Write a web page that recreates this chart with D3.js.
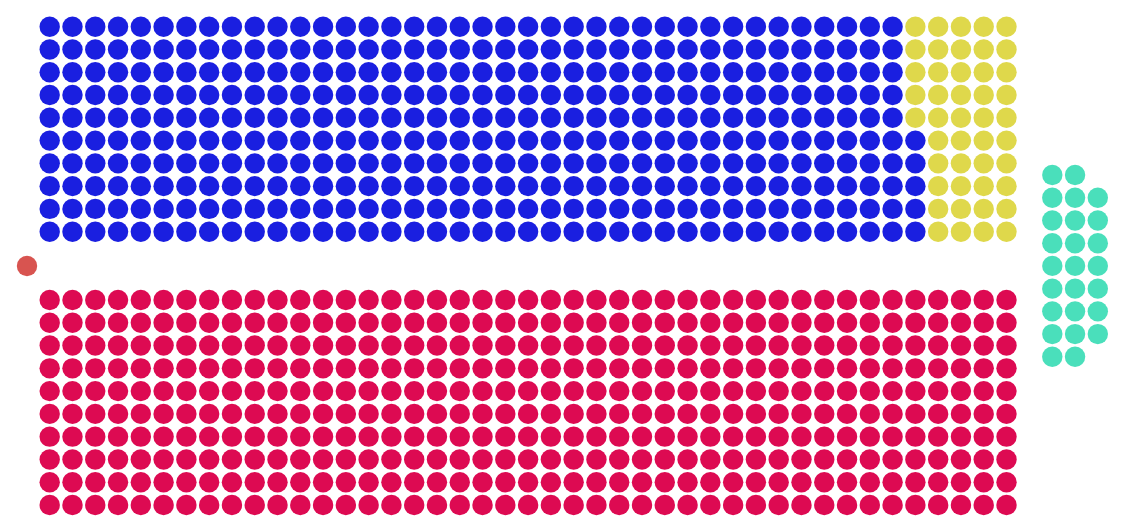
<!DOCTYPE html>
<html>
<head>
<meta charset="utf-8">
<script src="https://cdn.jsdelivr.net/npm/d3@7"></script>
<style>
  body { margin: 0; background: #fff; }
</style>
</head>
<body>
<script>
// seat counts per party
var partyNames = ["Party A", "Party B", "Party C", "Crossbench", "Speaker"];
var partySeats = [385, 45, 430, 25, 1];
var partyColors = ["#1a1fe0", "#dfd84b", "#dd0a52", "#4adfbb", "#d85450"];
var partyBench = ["top", "top", "bottom", "cross", "speaker"];

var width = 1125;
var height = 532;
var rowsPerBench = 10;
var colsPerBench = 43;
var crossCols = 3;
var r = 10.2;

var svg = d3.select("body").append("svg").attr("width", width).attr("height", height);

var x = d3.scaleLinear().domain([0, colsPerBench - 1]).range([49.7, 1006.5]);
// top bench fills from the aisle (bottom row) upwards
var yTop = d3.scaleLinear().domain([0, rowsPerBench - 1]).range([231.7, 26.7]);
var yBottom = d3.scaleLinear().domain([0, rowsPerBench - 1]).range([300, 505]);

// build one record per seat
var seats = [];
var counters = {top: 0, bottom: 0, cross: 0, speaker: 0};
partySeats.forEach(function(n, p) {
  for (var k = 0; k < n; k++) {
    seats.push({party: p, bench: partyBench[p], idx: counters[partyBench[p]]++});
  }
});

// crossbench: spread seats over a few columns, each column centred on the aisle
var crossTotal = counters.cross;
var crossRows = Math.ceil(crossTotal / crossCols);
var crossCounts = d3.range(crossCols).map(function(c) {
  return Math.max(0, Math.min(crossRows, crossTotal - c * crossRows));
});
var xCross = d3.scaleLinear().domain([0, crossCols - 1]).range([1052.3, 1097.8]);
var yCross = d3.scaleLinear().domain([0, crossRows - 1]).range([175, 356.8]);

function pos(d) {
  if (d.bench == "top") {
    return [x(Math.floor(d.idx / rowsPerBench)), yTop(d.idx % rowsPerBench)];
  }
  if (d.bench == "bottom") {
    return [x(Math.floor(d.idx / rowsPerBench)), yBottom(d.idx % rowsPerBench)];
  }
  if (d.bench == "cross") {
    var c = Math.floor(d.idx / crossRows);
    var row = d.idx % crossRows;
    var offset = (crossRows - crossCounts[c]) / 2;
    return [xCross(c), yCross(row + offset)];
  }
  return [27, 266];
}

svg.append("g").selectAll("circle")
  .data(seats)
  .enter().append("circle")
    .attr("cx", function(d) { return pos(d)[0]; })
    .attr("cy", function(d) { return pos(d)[1]; })
    .attr("r", r)
    .attr("fill", function(d) { return partyColors[d.party]; })
  .append("title")
    .text(function(d) { return partyNames[d.party]; });
</script>
</body>
</html>
